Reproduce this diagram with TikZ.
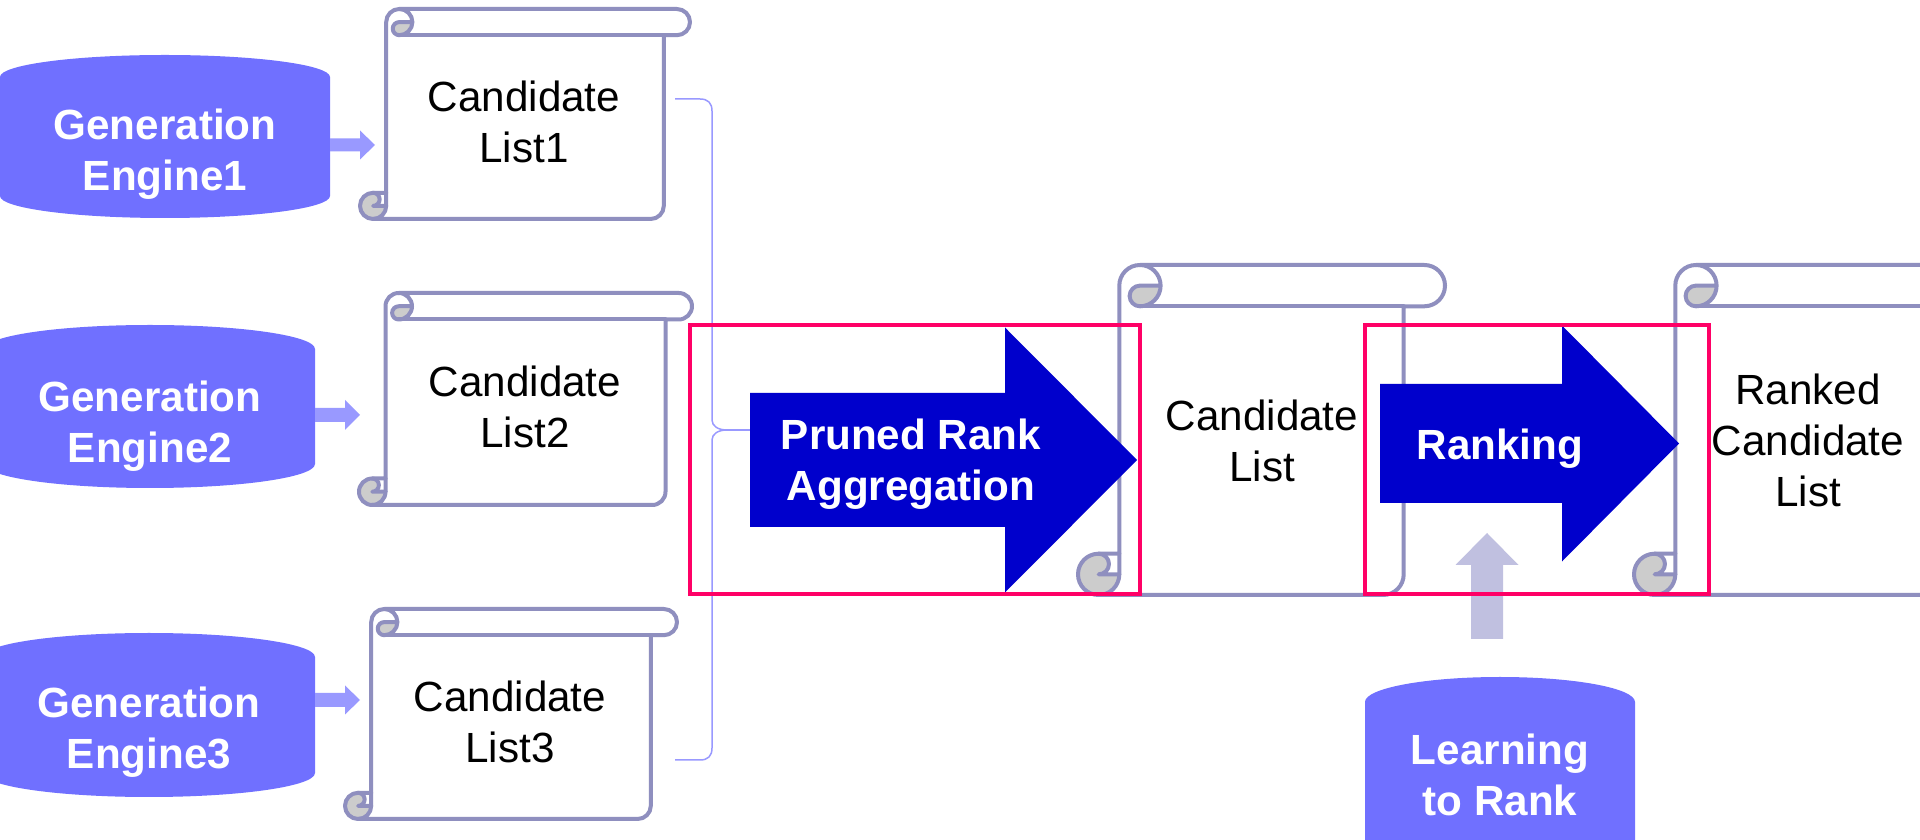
\documentclass[tikz,border=0pt]{standalone}
\usepackage{fontspec}
\setmainfont{Liberation Sans}
\usetikzlibrary{calc}
\definecolor{engfill}{RGB}{112,112,255}
\definecolor{smallarr}{RGB}{153,153,255}
\definecolor{bigarr}{RGB}{0,0,204}
\definecolor{redbox}{RGB}{255,0,102}
\definecolor{scrollline}{RGB}{143,143,191}
\definecolor{scrollgray}{RGB}{204,204,204}
\definecolor{uparr}{RGB}{192,192,224}
\definecolor{bracecol}{RGB}{153,153,255}
\newcommand\twol[1]{\begin{tabular}[t]{@{}c@{}}#1\end{tabular}}
% scroll: left, top, right, bottom, ch
\newcommand\scrollshape[5]{%
  \pgfmathsetmacro\scT{#2}\pgfmathsetmacro\scB{#4}%
  \pgfmathsetmacro\scH{#5/2}\pgfmathsetmacro\scQ{#5/4}%
  \pgfmathsetmacro\scXa{#1+#5}\pgfmathsetmacro\scXb{#1+#5/2}%
  \pgfmathsetmacro\scXc{#1+1.5*#5}\pgfmathsetmacro\scXd{#1+2*#5}%
  \pgfmathsetmacro\scXf{#3-#5}\pgfmathsetmacro\scXg{#3-#5/2}%
  \pgfmathsetmacro\scYa{#2+#5/2}\pgfmathsetmacro\scYb{#2+#5}%
  \pgfmathsetmacro\scYc{#4-#5}\pgfmathsetmacro\scYd{#4-#5/2}%
  \fill[white] (\scXa,\scYc) -- (\scXa,\scYa) arc[start angle=180,delta angle=90,radius=\scH]
     -- (\scXg,\scT) arc[start angle=270,delta angle=180,radius=\scH]
     -- (\scXf,\scYb) -- (\scXf,\scYd) arc[start angle=0,delta angle=90,radius=\scH]
     -- (\scXb,\scB) arc[start angle=90,delta angle=180,radius=\scH] -- cycle;
  \fill[scrollgray] (\scXd,\scYa) arc[start angle=0,delta angle=90,radius=\scH]
     arc[start angle=90,delta angle=180,radius=\scQ] -- cycle;
  \fill[scrollgray] (\scXa,\scYd) arc[start angle=0,delta angle=270,radius=\scH]
     arc[start angle=270,delta angle=180,radius=\scQ] -- cycle;
  \draw[scrollpen] (\scXa,\scYc) -- (\scXa,\scYa) arc[start angle=180,delta angle=90,radius=\scH]
     -- (\scXg,\scT) arc[start angle=270,delta angle=180,radius=\scH]
     -- (\scXf,\scYb) -- (\scXf,\scYd) arc[start angle=0,delta angle=90,radius=\scH]
     -- (\scXb,\scB) arc[start angle=90,delta angle=180,radius=\scH] -- cycle;
  \draw[scrollpen] (\scXc,\scT) arc[start angle=270,delta angle=180,radius=\scH]
     arc[start angle=90,delta angle=180,radius=\scQ] -- (\scXd,\scYa);
  \draw[scrollpen] (\scXf,\scYb) -- (\scXc,\scYb);
  \draw[scrollpen] (\scXb,\scYc) arc[start angle=270,delta angle=180,radius=\scQ] -- (\scXa,\scYd);
  \draw[scrollpen] (\scXb,\scB) arc[start angle=90,delta angle=-90,radius=\scH] -- (\scXa,\scYc);
}
% cylinder: style, left, top, right, bottom, ry
\newcommand\cylshape[6]{%
  \pgfmathsetmacro\cyRx{(#4-(#2))/2}%
  \pgfmathsetmacro\cyA{#3+#6}\pgfmathsetmacro\cyB{#5-#6}%
  \fill[#1] (#2,\cyA) arc[start angle=180,end angle=360,x radius=\cyRx,y radius=#6]
     -- (#4,\cyB) arc[start angle=0,end angle=180,x radius=\cyRx,y radius=#6] -- cycle;}
% right block arrow: style, from, tip, shaft half, head half, head length
\newcommand\blkarrowR[6]{%
  \fill[#1] ($(#2)+(0,-#4)$) -- ($(#3)+(-#6,-#4)$) -- ($(#3)+(-#6,-#5)$) -- (#3)
     -- ($(#3)+(-#6,#5)$) -- ($(#3)+(-#6,#4)$) -- ($(#2)+(0,#4)$) -- cycle;}
% up block arrow
\newcommand\blkarrowU[6]{%
  \fill[#1] ($(#2)+(-#4,0)$) -- ($(#3)+(-#4,#6)$) -- ($(#3)+(-#5,#6)$) -- (#3)
     -- ($(#3)+(#5,#6)$) -- ($(#3)+(#4,#6)$) -- ($(#2)+(#4,0)$) -- cycle;}
\begin{document}
\begin{tikzpicture}[x=0.01cm,y=-0.01cm,
  scrollpen/.style={draw=scrollline,line width=0.04cm,line join=round,line cap=round},
  lbl/.style={anchor=base,inner sep=0pt,font=\fontsize{12}{14.5}\selectfont},
  wlbl/.style={anchor=base,inner sep=0pt,text=white,font=\fontsize{12}{14.5}\selectfont\bfseries},
  redpen/.style={draw=redbox,line width=0.045cm},
  bracepen/.style={draw=bracecol,line width=0.015cm}]
\useasboundingbox (0,0) rectangle (1920,840);
\clip (0,0) rectangle (1920,840);
\fill[white] (0,0) rectangle (1920,840);

% coordinates for connectors
\coordinate (E1o) at (330,145);  \coordinate (L1i) at (375,145);
\coordinate (E2o) at (315,415);  \coordinate (L2i) at (360,415);
\coordinate (E3o) at (315,700);  \coordinate (L3i) at (360,700);
\coordinate (L1o) at (675,99);
\coordinate (L3o) at (675,760);
\coordinate (bc) at (727,430);
\coordinate (PRAin) at (750,430);
\coordinate (PRAs) at (750,460);  \coordinate (PRAt) at (1137,460);
\coordinate (RKs) at (1380,443.5); \coordinate (RKt) at (1679,443.5);
\coordinate (LTRo) at (1487,639); \coordinate (RKin) at (1487,533);

% scrolls
\scrollshape{360}{9}{690}{219}{26.2}
\node[lbl] (L1) at (524,112) {\twol{Candidate\\List1}};
\scrollshape{359}{293}{692}{505}{26.5}
\node[lbl] (L2) at (525,397) {\twol{Candidate\\List2}};
\scrollshape{345}{609}{677}{819}{26.2}
\node[lbl] (L3) at (510,712) {\twol{Candidate\\List3}};
\scrollshape{1078}{265}{1445}{595}{41.3}
\node[lbl] (CL) at (1262,431) {\twol{Candidate\\List}};
\scrollshape{1634}{265}{1982}{595}{41.3}
\node[lbl] (RCL) at (1808,405) {\twol{Ranked\\Candidate\\List}};

% engines
\cylshape{engfill}{0}{55}{330}{218}{22}
\node[wlbl] (E1) at (165,140) {\twol{Generation\\Engine1}};
\cylshape{engfill}{-15}{325}{315}{488}{24}
\node[wlbl] (E2) at (150,412) {\twol{Generation\\Engine2}};
\cylshape{engfill}{-17}{633}{315}{797}{24}
\node[wlbl] (E3) at (149,718) {\twol{Generation\\Engine3}};

% small arrows engine -> list
\blkarrowR{smallarr}{E1o}{L1i}{6.5}{14.5}{15}
\blkarrowR{smallarr}{E2o}{L2i}{7}{15}{15}
\blkarrowR{smallarr}{E3o}{L3i}{7}{14.5}{15}

% brace joining the three lists
\draw[bracepen] (L1o) -- (700,99) .. controls (708,99) and (712,103) .. (712,111)
   -- (712,420) .. controls (712,426) and (718,430) .. (bc)
   .. controls (718,430) and (712,434) .. (712,440)
   -- (712,748) .. controls (712,756) and (708,760) .. (700,760) -- (L3o);
\draw[bracepen] (bc) -- (PRAin);

% big arrows
\blkarrowR{bigarr}{PRAs}{PRAt}{67}{132.5}{132}
\node[wlbl] (PRA) at (911,450) {\twol{Pruned Rank\\Aggregation}};
\blkarrowR{bigarr}{RKs}{RKt}{59.5}{118}{117}
\node[wlbl] (RK) at (1500,460) {Ranking};

% learning to rank
\blkarrowU{uparr}{LTRo}{RKin}{16}{31.5}{32}
\cylshape{engfill}{1365}{677}{1635}{870}{25}
\node[wlbl] (LTR) at (1500,765) {\twol{Learning\\to Rank}};

% red frames
\draw[redpen] (690,325) rectangle (1140,594);
\draw[redpen] (1365,325) rectangle (1709,594);
\end{tikzpicture}
\end{document}
